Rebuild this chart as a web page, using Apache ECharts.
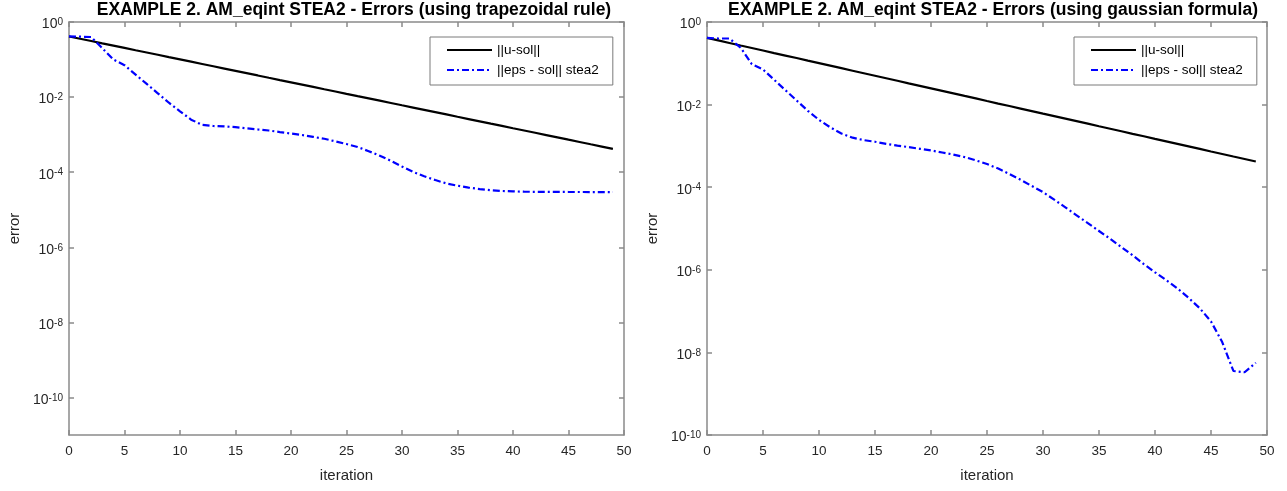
<!DOCTYPE html>
<html>
<head>
<meta charset="utf-8">
<script src="https://cdn.jsdelivr.net/npm/echarts@6/dist/echarts.min.js"></script>
<style>
  html, body { margin: 0; padding: 0; background: #ffffff; }
  #chart { width: 1287px; height: 491px; }
</style>
</head>
<body>
<div id="chart"></div>
<script>
// Iteration index (x values shared by every curve)
const iterations = [
  0, 1, 2, 3, 4, 5, 6, 7, 8, 9,
  10, 11, 12, 13, 14, 15, 16, 17, 18, 19,
  20, 21, 22, 23, 24, 25, 26, 27, 28, 29,
  30, 31, 32, 33, 34, 35, 36, 37, 38, 39,
  40, 41, 42, 43, 44, 45, 46, 47, 48, 49
];

// ||u - sol|| : error of the plain iterates (same in both panels)
const uSolError = [
  0.412, 0.358, 0.311, 0.270, 0.235, 0.204, 0.177, 0.154, 0.134, 0.116,
  0.101, 0.0877, 0.0762, 0.0662, 0.0575, 0.0500, 0.0434, 0.0377, 0.0327, 0.0284,
  0.0247, 0.0215, 0.0187, 0.0162, 0.0141, 0.0122, 0.0106, 0.00923, 0.00802, 0.00697,
  0.00605, 0.00526, 0.00457, 0.00397, 0.00345, 0.00299, 0.00260, 0.00226, 0.00196, 0.00171,
  0.00148, 0.00129, 0.00112, 0.000973, 0.000845, 0.000733, 0.000637, 0.000553, 0.000481, 0.000418
];

// ||eps - sol|| stea2 with the trapezoidal rule
const epsTrapezoidal = [
  0.412, 0.407, 0.398, 0.200, 0.100, 0.0708, 0.0398, 0.0224, 0.0126, 0.00708,
  0.00417, 0.00251, 0.00182, 0.00170, 0.00166, 0.00158, 0.00148, 0.00138, 0.00129, 0.00117,
  0.00107, 0.000977, 0.000871, 0.000776, 0.000661, 0.000562, 0.000468, 0.000363, 0.000275, 0.000200,
  0.000141, 0.000102, 7.76e-5, 6.17e-5, 5.01e-5, 4.37e-5, 3.89e-5, 3.55e-5, 3.31e-5, 3.16e-5,
  3.09e-5, 3.02e-5, 3.00e-5, 2.99e-5, 2.98e-5, 2.97e-5, 2.97e-5, 2.96e-5, 2.96e-5, 2.95e-5
];

// ||eps - sol|| stea2 with the gaussian formula
const epsGaussian = [
  0.412, 0.398, 0.398, 0.240, 0.0955, 0.0708, 0.0398, 0.0224, 0.0126, 0.00708,
  0.00427, 0.00282, 0.00200, 0.00158, 0.00138, 0.00126, 0.00112, 0.00102, 0.000933, 0.000851,
  0.000776, 0.000692, 0.000617, 0.000537, 0.000447, 0.000363, 0.000282, 0.000209, 0.000151, 0.000107,
  7.59e-5, 5.01e-5, 3.24e-5, 2.09e-5, 1.35e-5, 8.71e-6, 5.62e-6, 3.55e-6, 2.24e-6, 1.38e-6,
  8.71e-7, 5.62e-7, 3.55e-7, 2.09e-7, 1.17e-7, 5.62e-8, 1.78e-8, 3.55e-9, 3.31e-9, 5.62e-9
];

// Axis ticks
const yTickValues = [1e-10, 1e-8, 1e-6, 1e-4, 1e-2, 1];
const xTickStep = 5;

const panelTitles = [
  'EXAMPLE 2. AM_eqint STEA2 - Errors (using trapezoidal rule)',
  'EXAMPLE 2. AM_eqint STEA2 - Errors (using gaussian formula)'
];
const seriesNames = ['||u-sol||', '||eps - sol|| stea2'];
const xAxisName = 'iteration';
const yAxisName = 'error';

const FONT = '"Liberation Sans", Arial, Helvetica, sans-serif';
const AXIS_COLOR = '#8a8a8a';
const TEXT_COLOR = '#262626';

// panel frames
const panels = [
  { left: 69, top: 22, width: 555, height: 413, yMin: 1e-11, yMax: 1, legendLeft: 430, titleCenter: 354 },
  { left: 707, top: 22, width: 560, height: 413, yMin: 1e-10, yMax: 1, legendLeft: 1074, titleCenter: 993 }
];

function pairs(values) {
  return iterations.map((it, i) => [it, values[i]]);
}

function powerLabel(v) {
  const e = Math.round(Math.log10(v));
  return '{b|10}{s|' + e + '}';
}

const powerRich = {
  b: { fontSize: 14, fontFamily: FONT, color: TEXT_COLOR, lineHeight: 14, verticalAlign: 'bottom' },
  s: { fontSize: 10, fontFamily: FONT, color: TEXT_COLOR, lineHeight: 10, verticalAlign: 'top', padding: [0, 0, 8, 0] }
};

const grids = [], xAxes = [], yAxes = [], series = [], legends = [], titles = [];

panels.forEach((p, k) => {
  grids.push({ left: p.left, top: p.top, width: p.width, height: p.height, containLabel: false });

  const lineStyle = { color: AXIS_COLOR, width: 1.5 };
  // bottom and mirrored top x axes
  xAxes.push({
    type: 'value', gridIndex: k, position: 'bottom', min: 0, max: 50, interval: xTickStep,
    name: xAxisName, nameLocation: 'middle', nameGap: 33,
    nameTextStyle: { fontSize: 15, fontFamily: FONT, color: TEXT_COLOR },
    axisLine: { show: true, onZero: false, lineStyle },
    axisTick: { show: true, inside: true, length: 5, lineStyle },
    axisLabel: { fontSize: 13.5, fontFamily: FONT, color: TEXT_COLOR, margin: 9 },
    splitLine: { show: false }
  });
  xAxes.push({
    type: 'value', gridIndex: k, position: 'top', min: 0, max: 50, interval: xTickStep,
    axisLine: { show: true, onZero: false, lineStyle },
    axisTick: { show: true, inside: true, length: 5, lineStyle },
    axisLabel: { show: false },
    splitLine: { show: false }
  });
  // left and mirrored right log y axes
  yAxes.push({
    type: 'log', logBase: 10, gridIndex: k, position: 'left', min: p.yMin, max: p.yMax,
    name: yAxisName, nameLocation: 'middle', nameGap: 47, nameRotate: 90,
    nameTextStyle: { fontSize: 15, fontFamily: FONT, color: TEXT_COLOR },
    axisLine: { show: true, onZero: false, lineStyle },
    axisTick: { show: true, inside: true, length: 5, lineStyle, customValues: yTickValues },
    axisLabel: { margin: 6, padding: [5, 0, 0, 0], formatter: powerLabel, rich: powerRich, customValues: yTickValues },
    splitLine: { show: false }
  });
  yAxes.push({
    type: 'log', logBase: 10, gridIndex: k, position: 'right', min: p.yMin, max: p.yMax,
    axisLine: { show: true, onZero: false, lineStyle },
    axisTick: { show: true, inside: true, length: 5, lineStyle, customValues: yTickValues },
    axisLabel: { show: false },
    splitLine: { show: false }
  });

  const epsValues = k === 0 ? epsTrapezoidal : epsGaussian;
  series.push({
    type: 'line', name: seriesNames[0], xAxisIndex: 2 * k, yAxisIndex: 2 * k,
    data: pairs(uSolError), symbol: 'none', showSymbol: false, smooth: false,
    lineStyle: { color: '#000000', width: 2.2 }, itemStyle: { color: '#000000' }
  });
  series.push({
    type: 'line', name: seriesNames[1], xAxisIndex: 2 * k, yAxisIndex: 2 * k,
    data: pairs(epsValues), symbol: 'none', showSymbol: false, smooth: false,
    lineStyle: { color: '#0000ff', width: 2.2, type: [7, 3, 2, 3] }, itemStyle: { color: '#0000ff' }
  });

  legends.push({
    data: seriesNames, orient: 'vertical', left: p.legendLeft, top: 37,
    padding: [6, 14, 8, 16], itemGap: 6, itemWidth: 45, itemHeight: 14,
    borderColor: '#7a7a7a', borderWidth: 1, backgroundColor: '#ffffff',
    itemStyle: { opacity: 0 },
    textStyle: { fontSize: 13.5, fontFamily: FONT, color: '#000000' },
    selectedMode: false
  });

  titles.push({
    text: panelTitles[k], left: p.titleCenter, top: 1, padding: 0, textAlign: 'center',
    textStyle: { fontSize: 17.5, fontWeight: 'bold', fontFamily: FONT, color: '#000000' }
  });
});

const chart = echarts.init(document.getElementById('chart'), null, { renderer: 'canvas' });
chart.setOption({
  animation: false,
  backgroundColor: '#ffffff',
  title: titles,
  legend: legends,
  grid: grids,
  xAxis: xAxes,
  yAxis: yAxes,
  series: series
});
</script>
</body>
</html>
